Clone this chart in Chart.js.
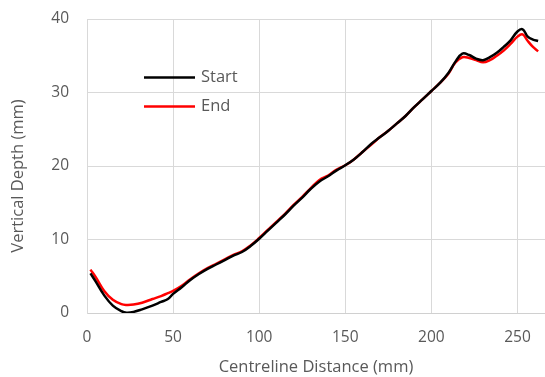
<!DOCTYPE html>
<html>
<head>
<meta charset="utf-8">
<script src="https://cdn.jsdelivr.net/npm/chart.js@4/dist/chart.umd.min.js"></script>
<style>
html,body{margin:0;padding:0;background:#fff;overflow:hidden;}
canvas{display:block;}
</style>
</head>
<body>
<canvas id="c" width="545" height="377"></canvas>
<script>
const distance = [2, 5, 10, 15, 20, 23, 27, 32, 38, 43, 47, 50, 55, 60, 65, 70, 75, 80, 85, 90, 95, 100, 105, 110, 115, 120, 125, 130, 135, 140, 145, 150, 155, 160, 165, 170, 175, 180, 185, 190, 195, 200, 205, 210, 214, 218, 222, 226, 230, 234, 238, 242, 246, 250, 253, 256, 259, 262];
const startDepth = [5.4, 4.3, 2.4, 1.0, 0.25, 0.05, 0.15, 0.5, 1.0, 1.5, 1.9, 2.6, 3.5, 4.5, 5.3, 6.0, 6.6, 7.2, 7.8, 8.3, 9.1, 10.1, 11.2, 12.3, 13.4, 14.6, 15.7, 16.9, 17.9, 18.6, 19.4, 20.1, 20.9, 21.9, 23.0, 23.9, 24.8, 25.8, 26.8, 28.0, 29.1, 30.2, 31.3, 32.7, 34.2, 35.3, 35.1, 34.6, 34.4, 34.8, 35.4, 36.2, 37.1, 38.3, 38.6, 37.6, 37.2, 37.0];
const endDepth = [5.9, 4.9, 3.0, 1.8, 1.2, 1.1, 1.15, 1.4, 1.9, 2.3, 2.7, 3.0, 3.7, 4.6, 5.4, 6.1, 6.7, 7.3, 7.9, 8.4, 9.2, 10.2, 11.3, 12.4, 13.5, 14.7, 15.8, 17.0, 18.1, 18.7, 19.5, 20.1, 20.9, 21.9, 22.9, 23.9, 24.8, 25.8, 26.8, 28.0, 29.1, 30.2, 31.3, 32.6, 34.1, 34.8, 34.7, 34.4, 34.1, 34.4, 35.0, 35.7, 36.6, 37.6, 37.9, 37.0, 36.2, 35.6];
const seriesLabels = ['Start', 'End'];
const seriesColors = ['#000000', '#ff0000'];
const xTicks = [0, 50, 100, 150, 200, 250];
const yTicks = [0, 10, 20, 30, 40];
const xTitle = 'Centreline Distance (mm)';
const yTitle = 'Vertical Depth (mm)';

const FONT = 'Open Sans';
const TXT = '#595959';
const FS = 15.5;
const TFS = 16.5;

function pts(ys){ return distance.map((x,i)=>({x:x, y:ys[i]})); }

const legendPlugin = {
  id: 'insideLegend',
  afterDatasetsDraw(chart){
    const ctx = chart.ctx;
    ctx.save();
    chart.data.datasets.forEach((ds, i) => {
      const y = 77.5 + i * 29;
      ctx.strokeStyle = ds.borderColor;
      ctx.lineWidth = 2.5;
      ctx.beginPath();
      ctx.moveTo(144, y);
      ctx.lineTo(195, y);
      ctx.stroke();
      ctx.fillStyle = TXT;
      ctx.font = TFS + 'px "' + FONT + '"';
      ctx.textBaseline = 'middle';
      ctx.textAlign = 'left';
      ctx.fillText(ds.label, 201, y);
    });
    // y-axis title (offset slightly below the plot centre, as in the original)
    ctx.translate(18.5, 176);
    ctx.rotate(-Math.PI / 2);
    ctx.textAlign = 'center';
    ctx.textBaseline = 'middle';
    ctx.fillText(yTitle, 0, 0);
    ctx.restore();
  }
};

new Chart(document.getElementById('c'), {
  type: 'line',
  data: {
    datasets: [
      {label: seriesLabels[0], data: pts(startDepth), borderColor: seriesColors[0], borderWidth: 2.5, pointRadius: 0, tension: 0.4, fill: false},
      {label: seriesLabels[1], data: pts(endDepth), borderColor: seriesColors[1], borderWidth: 2.5, pointRadius: 0, tension: 0.4, fill: false}
    ]
  },
  options: {
    responsive: false,
    devicePixelRatio: 1,
    animation: false,
    layout: {padding: {top: 19, right: 0, left: 0, bottom: 0}},
    plugins: {legend: {display: false}, tooltip: {enabled: false}},
    scales: {
      x: {
        type: 'linear', min: 0, max: 266,
        afterBuildTicks(s){ s.ticks = xTicks.map(v=>({value:v})); },
        afterFit(s){ s.height = 64; s.paddingLeft = 0; s.paddingRight = 0; },
        grid: {color: '#d9d9d9', drawTicks: false, lineWidth: 1},
        border: {color: '#d0d0d0'},
        ticks: {color: TXT, font: {family: FONT, size: FS}, padding: 15, maxRotation: 0},
        title: {display: true, text: xTitle, color: TXT, font: {family: FONT, size: TFS}, padding: {top: 0, bottom: 0}}
      },
      y: {
        type: 'linear', min: 0, max: 40,
        afterBuildTicks(s){ s.ticks = yTicks.map(v=>({value:v})); },
        afterFit(s){ s.width = 87; s.paddingTop = 0; s.paddingBottom = 0; },
        grid: {color: '#d9d9d9', drawTicks: false, lineWidth: 1},
        border: {color: '#d9d9d9'},
        ticks: {color: TXT, font: {family: FONT, size: FS}, padding: 18},
        title: {display: false}
      }
    }
  },
  plugins: [legendPlugin]
});
</script>
</body>
</html>
